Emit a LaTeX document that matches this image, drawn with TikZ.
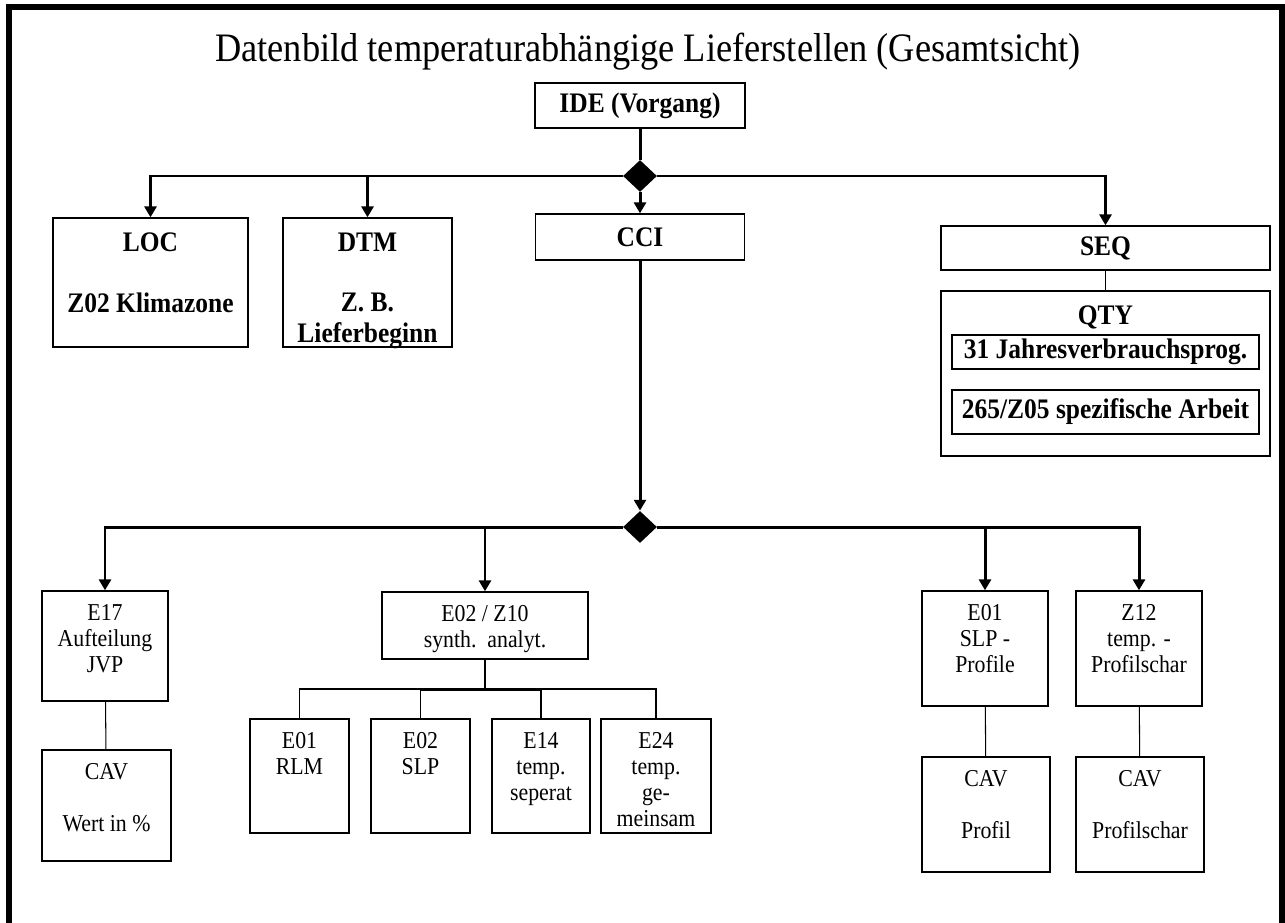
\documentclass[tikz,border=0pt]{standalone}
\usepackage{fontspec}
\setmainfont{Liberation Serif}[FakeStretch=0.9]
\usetikzlibrary{arrows.meta, shapes.geometric}

\begin{document}
\begin{tikzpicture}[
    x=0.02cm, y=-0.02cm,
    every node/.style={font=\fontsize{13.8}{14.8}\selectfont},
    bold/.style={font=\bfseries\fontsize{16.1}{17.3}\selectfont},
    box/.style={draw, line width=0.8pt, inner sep=0pt, minimum width=#1},
    tbox/.style n args={3}{draw, line width=0.8pt, inner sep=0pt, minimum width=#1, minimum height=#2,
      execute at begin node={\begin{minipage}[c][#2][t]{#1}\centering\vspace*{#3}},
      execute at end node={\end{minipage}}},
    dia/.style={diamond, fill, inner sep=0pt, minimum width=0.68cm, minimum height=0.64cm},
    arrow/.style={-{Triangle[width=6.8pt, length=6.2pt]}, line width=1.7pt},
    trunk/.style={line width=1.7pt},
    twig/.style={line width=0.6pt},
    frame/.style={line width=3.4pt},
    ]

    \useasboundingbox (0,0) rectangle (1285,923);
    \draw[frame] (9,923) -- (9,7) -- (1281.5,7) -- (1281.5,923);

    \node[font=\fontsize{23}{26}\selectfont] (title) at (648,52) {Datenbild temperaturabhängige Lieferstellen (Gesamtsicht)};

    % obere Ebene
    \node[box=4.2cm, minimum height=0.9cm, bold] (ide) at (640,105.5) {IDE (Vorgang)};
    \node[dia] (top) at (640,176) {};

    \node[tbox={3.9cm}{2.58cm}{0.29cm}, bold] (loc) at (150.5,282.5) {LOC\\[\baselineskip]Z02 Klimazone};
    \node[tbox={3.38cm}{2.58cm}{0.29cm}, bold] (dtm) at (367.5,282.5) {DTM\\[\baselineskip]Z. B.\\Lieferbeginn};
    \node[box=4.18cm, minimum height=0.92cm, bold] (cci) at (640,237) {CCI};
    \node[box=6.58cm, minimum height=0.88cm, bold] (seq) at (1105.5,248) {SEQ};
    \node[tbox={6.58cm}{3.3cm}{0.29cm}, bold] (qty) at (1105.5,373.5) {QTY};
    \node[box=6.14cm, minimum height=0.68cm, bold] (jvp) at (1105.5,352) {31 Jahresverbrauchsprog.};
    \node[box=6.14cm, minimum height=0.88cm, bold] (arbeit) at (1105.5,412) {265/Z05 spezifische Arbeit};

    % untere Ebene
    \node[dia] (low) at (640,527) {};

    \node[tbox={2.52cm}{2.2cm}{0.26cm}] (e17) at (105,646) {E17\\Aufteilung\\JVP};
    \node[tbox={2.58cm}{2.22cm}{0.26cm}] (cavjvp) at (106.5,805.5) {CAV\\[\baselineskip]Wert in \%};
    \node[tbox={4.12cm}{1.34cm}{0.26cm}] (e02z10) at (485,625.5) {E02 / Z10\\synth.\ \ analyt.};
    \node[tbox={1.98cm}{2.28cm}{0.26cm}] (e01rlm) at (299.5,776) {E01\\RLM};
    \node[tbox={1.98cm}{2.28cm}{0.26cm}] (e02slp) at (420.5,776) {E02\\SLP};
    \node[tbox={1.96cm}{2.28cm}{0.26cm}] (e14) at (541,776) {E14\\temp.\\seperat};
    \node[tbox={2.2cm}{2.28cm}{0.26cm}] (e24) at (656,776) {E24\\temp.\\ge-\\meinsam};
    \node[tbox={2.52cm}{2.3cm}{0.26cm}] (e01slp) at (985,648.5) {E01\\SLP -\\Profile};
    \node[tbox={2.52cm}{2.3cm}{0.26cm}] (z12) at (1139,648.5) {Z12\\temp. -\\Profilschar};
    \node[tbox={2.56cm}{2.3cm}{0.26cm}] (cavslp) at (986,814.5) {CAV\\[\baselineskip]Profil};
    \node[tbox={2.56cm}{2.3cm}{0.26cm}] (cavz12) at (1140,814.5) {CAV\\[\baselineskip]Profilschar};

    \coordinate (split) at (485,689);

    \draw[trunk] (ide) -- (top);
    \draw[arrow] (top) -| (loc);
    \draw[arrow] (top) -| (dtm);
    \draw[arrow] (top) -- (cci);
    \draw[arrow] (top) -| (seq);
    \draw[twig] (seq) -- (qty);

    \draw[arrow] (cci) -- (low);
    \draw[arrow] (low) -| (e17);
    \draw[arrow] (low) -| (e02z10);
    \draw[arrow] (low) -| (e01slp);
    \draw[arrow] (low) -| (z12);

    \draw[twig] (e17) -- (cavjvp);
    \draw[twig] (e01slp) -- (cavslp);
    \draw[twig] (z12) -- (cavz12);

    \draw[trunk] (e02z10) -- (split);
    \draw[twig] (split) -| (e01rlm);
    \draw[twig] (split) -| (e02slp);
    \draw[twig] (split) -| (e14);
    \draw[twig] (split) -| (e24);
    \draw[trunk] (e02slp |- split) -- (e14 |- split);

\end{tikzpicture}
\end{document}
